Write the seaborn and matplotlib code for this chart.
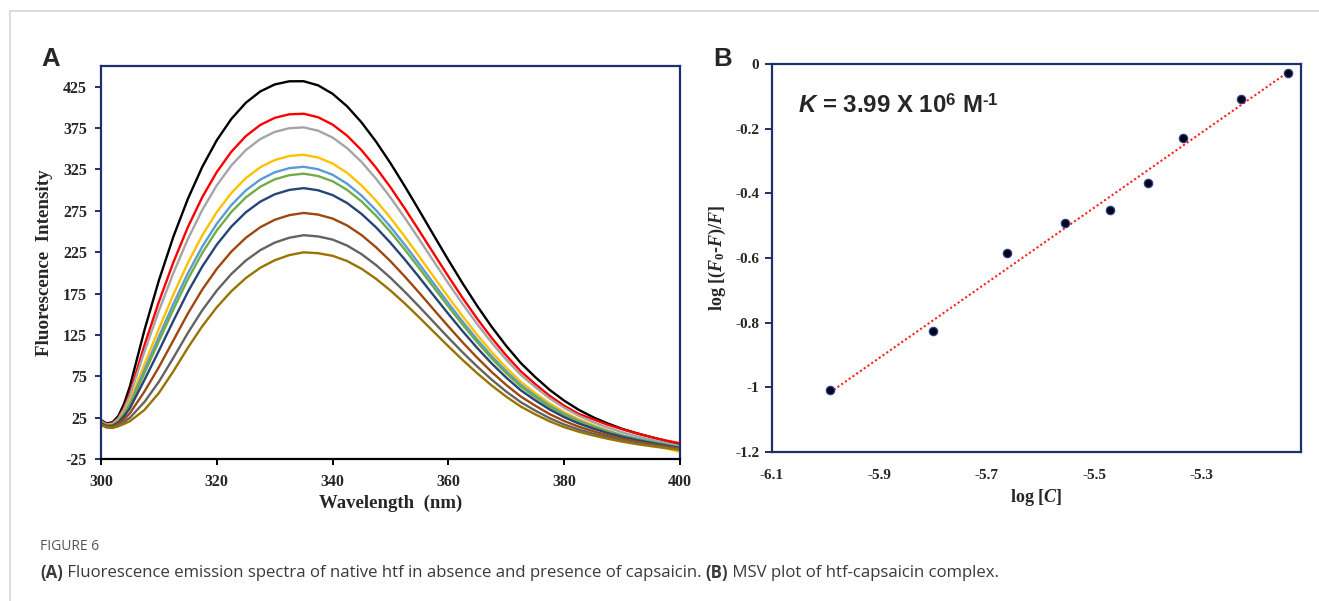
import matplotlib
matplotlib.use("Agg")
import matplotlib.pyplot as plt
import seaborn as sns
import pandas as pd
from matplotlib.lines import Line2D

# ---------------- data ----------------
wavelength = [300, 301, 302, 303, 304, 305, 307.5, 310, 312.5, 315, 317.5, 320, 322.5, 325,
              327.5, 330, 332.5, 335, 337.5, 340, 342.5, 345, 347.5, 350, 352.5, 355, 357.5,
              360, 362.5, 365, 367.5, 370, 372.5, 375, 377.5, 380, 382.5, 385, 387.5, 390,
              392.5, 395, 397.5, 400]

curve_black = [22, 18, 19.5, 27, 42, 62.9, 130.7, 190.9, 243.7, 289.4, 328.2, 360.3, 385.9, 405.5,
               419.2, 427.7, 431.5, 431.6, 426.6, 416.4, 401.3, 381.8, 358.6, 332.5, 304.3, 274.9, 245,
               215.4, 186.8, 159.7, 134.5, 111.6, 91, 74, 58.5, 45.5, 34.5, 25.5, 18, 11.5,
               6.2, 1.5, -3.2, -7.5]
curve_red = [20.9, 17.1, 18.2, 24.6, 37.3, 54.9, 112.4, 165.0, 212.8, 255.2, 291.6, 321.9, 346.3, 365.2,
             378.7, 387.3, 391.6, 392.3, 388.1, 379.2, 365.8, 348.2, 327.1, 303.3, 277.4, 250.4, 222.9,
             195.6, 169.2, 144.3, 121.1, 100.0, 81.0, 65.5, 51.3, 39.4, 29.5, 23, 16.5, 11,
             6, 1.5, -2.5, -6]
curve_gray = [20.4, 16.7, 17.6, 23.6, 35.4, 51.5, 104.7, 154.2, 199.8, 240.8, 276.2, 305.8, 329.7, 348.3,
              361.7, 370.3, 374.8, 375.8, 371.8, 363.5, 350.8, 334.0, 313.8, 291.0, 266.1, 240.1, 213.5,
              187.3, 161.9, 137.8, 115.4, 95.1, 76.8, 61.9, 48.2, 36.9, 27.3, 19.6, 13.0, 7.3,
              2.6, -1.5, -5.5, -9.3]
curve_yellow = [19.4, 15.9, 16.5, 21.6, 31.5, 44.8, 89.3, 132.4, 173.7, 212.0, 245.4, 273.5, 296.4, 314.4,
                327.6, 336.3, 341.2, 342.7, 339.4, 332.2, 320.9, 305.7, 287.3, 266.3, 243.5, 219.4, 194.9,
                170.6, 147.1, 124.8, 104.1, 85.2, 68.4, 54.7, 42.2, 31.7, 23.1, 16.0, 9.5, 3.5,
                -2, -7, -11.8, -16.5]
curve_lightblue = [19, 15.5, 16, 20.8, 29.8, 41.8, 82.5, 122.9, 162.4, 199.4, 231.9, 259.4, 281.8, 299.6,
                   312.7, 321.5, 326.5, 328.2, 325.2, 318.5, 307.8, 293.4, 275.7, 255.6, 233.6, 210.4, 186.8,
                   163.3, 140.6, 119.1, 99.1, 81.0, 64.7, 51.5, 39.5, 29.5, 21.3, 14.5, 8.8, 3.8,
                   -0.4, -4.0, -7.5, -10.8]
curve_green = [18.8, 15.3, 15.7, 20.3, 28.8, 40.1, 78.6, 117.4, 155.8, 192.2, 224.2, 251.3, 273.5, 291.1,
               304.1, 313.0, 318.0, 319.9, 317.0, 310.7, 300.3, 286.3, 269.1, 249.4, 227.9, 205.2, 182.1,
               159.1, 136.9, 115.9, 96.3, 78.5, 62.6, 49.7, 38.0, 28.2, 20.2, 13.6, 8.0, 3.1,
               -0.9, -4.4, -7.8, -11.0]
curve_navy = [18.3, 14.9, 15.1, 19.2, 26.7, 36.5, 70.5, 105.8, 142.0, 176.9, 207.8, 234.1, 255.8, 273.1,
              286.0, 294.9, 300.2, 302.4, 299.8, 294.0, 284.4, 271.2, 255.0, 236.3, 215.9, 194.3, 172.2,
              150.3, 129.1, 109.0, 90.3, 73.3, 58.1, 45.9, 34.8, 25.5, 17.9, 11.8, 6.4, 1.8,
              -2.1, -5.4, -8.6, -11.6]
curve_brown = [17.4, 14.2, 14.1, 17.4, 23.1, 30.4, 56.5, 86.1, 118.4, 150.8, 179.9, 204.8, 225.6, 242.3,
               255.1, 264.1, 269.7, 272.4, 270.4, 265.6, 257.3, 245.6, 230.9, 214.0, 195.3, 175.6, 155.3,
               135.2, 115.7, 97.2, 80.0, 64.4, 50.5, 39.4, 29.2, 20.9, 14.1, 8.6, 3.8, -0.4,
               -4.0, -7.0, -9.8, -12.5]
curve_darkgray = [16.6, 13.5, 13.2, 15.8, 20.0, 24.9, 43.9, 68.4, 97.3, 127.4, 154.9, 178.6, 198.5, 214.8,
                  227.4, 236.5, 242.4, 245.5, 244.0, 240.2, 233.0, 222.6, 209.4, 194.0, 176.9, 158.8, 140.2,
                  121.6, 103.6, 86.6, 70.8, 56.4, 43.7, 33.5, 24.3, 16.7, 10.7, 5.7, 1.4, -2.5,
                  -5.7, -8.4, -10.9, -13.4]
curve_olive = [16, 13, 12.5, 14.5, 17.5, 20.7, 34.3, 54.8, 81.0, 109.4, 135.6, 158.4, 177.7, 193.6,
               206.1, 215.2, 221.4, 224.8, 223.7, 220.6, 214.3, 204.9, 192.8, 178.6, 162.8, 145.9, 128.5,
               111.2, 94.4, 78.5, 63.7, 50.3, 38.4, 29, 20.5, 13.5, 8, 3.5, -0.5, -4,
               -7, -9.5, -11.8, -14]

series_names = ["c0", "c1", "c2", "c3", "c4", "c5", "c6", "c7", "c8", "c9"]
series_values = [curve_black, curve_red, curve_gray, curve_yellow, curve_lightblue,
                 curve_green, curve_navy, curve_brown, curve_darkgray, curve_olive]
series_colors = ["#000000", "#FF0000", "#A5A5A5", "#FFC000", "#5B9BD5",
                 "#70AD47", "#264478", "#9E480E", "#636363", "#997300"]

a_yticks = [-25, 25, 75, 125, 175, 225, 275, 325, 375, 425]
a_xticks = [300, 320, 340, 360, 380, 400]

log_c = [-5.992, -5.800, -5.663, -5.555, -5.471, -5.399, -5.335, -5.227, -5.140]
log_ratio = [-1.008, -0.826, -0.584, -0.491, -0.452, -0.367, -0.228, -0.109, -0.029]

b_yticks = [0, -0.2, -0.4, -0.6, -0.8, -1.0, -1.2]
b_ytick_labels = ["0", "-0.2", "-0.4", "-0.6", "-0.8", "-1", "-1.2"]
b_xticks = [-6.1, -5.9, -5.7, -5.5, -5.3]
b_xtick_labels = ["-6.1", "-5.9", "-5.7", "-5.5", "-5.3"]

# ---------------- style ----------------
sns.set_theme(style="white")
plt.rcParams["font.family"] = ["Liberation Serif", "DejaVu Serif"]
plt.rcParams["axes.unicode_minus"] = False
plt.rcParams["mathtext.fontset"] = "custom"
plt.rcParams["mathtext.rm"] = "Liberation Serif:bold"
plt.rcParams["mathtext.it"] = "Liberation Serif:italic:bold"
plt.rcParams["mathtext.bf"] = "Liberation Sans:bold"
plt.rcParams["mathtext.sf"] = "Liberation Sans:italic:bold"

W, H = 1319, 601
NAVY = "#1E2F6E"
fig = plt.figure(figsize=(W / 100, H / 100), dpi=100)
fig.patch.set_facecolor("white")


def px_axes(left, top, right, bottom):
    return fig.add_axes([left / W, 1 - bottom / H, (right - left) / W, (bottom - top) / H])


# page frame lines
fig.add_artist(Line2D([9.5 / W, 9.5 / W], [0, 1 - 11 / H], color="#d6d6d6", lw=1.2))
fig.add_artist(Line2D([9.5 / W, 1], [1 - 11 / H, 1 - 11 / H], color="#d6d6d6", lw=1.2))

# ---------------- panel A ----------------
axA = px_axes(101, 66, 680, 459)
long_rows = []
for name, vals in zip(series_names, series_values):
    for w, v in zip(wavelength, vals):
        long_rows.append({"wl": w, "val": v, "series": name})
dfA = pd.DataFrame(long_rows)
sns.lineplot(data=dfA, x="wl", y="val", hue="series", hue_order=series_names,
             palette=series_colors, linewidth=1.7, legend=False, ax=axA, sort=True)
axA.set_xlim(300, 400)
axA.set_ylim(-25, 450)
axA.set_xticks(a_xticks)
axA.set_yticks(a_yticks)
axA.set_xticklabels([str(t) for t in a_xticks])
axA.set_yticklabels([str(t) for t in a_yticks])
for side in ["left", "top", "right"]:
    axA.spines[side].set_color(NAVY)
    axA.spines[side].set_linewidth(1.6)
axA.spines["bottom"].set_color("black")
axA.spines["bottom"].set_linewidth(1.6)
axA.tick_params(axis="y", direction="out", length=4, width=1.4, color=NAVY, pad=6,
                labelsize=11.5, left=True)
axA.tick_params(axis="x", direction="out", length=4, width=1.4, color="black", pad=7,
                labelsize=11.5, bottom=True)
for lab in axA.get_xticklabels() + axA.get_yticklabels():
    lab.set_fontweight("bold")
axA.set_xlabel("Wavelength  (nm)", fontsize=13.5, fontweight="bold", va="center")
axA.xaxis.set_label_coords(0.5, -0.112)
axA.set_ylabel("Fluorescence  Intensity", fontsize=13.7, fontweight="bold", va="center")
axA.yaxis.set_label_coords(-0.097, 0.5)
axA.grid(False)

# ---------------- panel B ----------------
axB = px_axes(772, 64, 1301, 452)
sns.regplot(x=log_c, y=log_ratio, ax=axB, ci=None, scatter=False, truncate=True,
            line_kws=dict(color="#FF2020", linestyle=(0, (1, 1.2)), linewidth=1.5))
sns.scatterplot(x=log_c, y=log_ratio, ax=axB, s=36, color="#050510",
                edgecolor="#2A3F9A", linewidth=0.9, zorder=5)
axB.set_xlim(-6.1, -5.115)
axB.set_ylim(-1.2, 0)
axB.set_xticks(b_xticks)
axB.set_xticklabels(b_xtick_labels)
axB.set_yticks(b_yticks)
axB.set_yticklabels(b_ytick_labels)
for side in ["left", "top", "right", "bottom"]:
    axB.spines[side].set_color(NAVY)
    axB.spines[side].set_linewidth(1.6)
axB.tick_params(axis="y", direction="out", length=5, width=1.4, color=NAVY, pad=4,
                labelsize=11, left=True)
axB.tick_params(axis="x", length=0, pad=12, labelsize=11, bottom=True)
for lab in axB.get_xticklabels() + axB.get_yticklabels():
    lab.set_fontweight("bold")
axB.set_xlabel(r"log [$C$]", fontsize=13, fontweight="bold", va="center")
axB.xaxis.set_label_coords(0.5, -0.116)
axB.set_ylabel(r"log [($F_{\mathit{0}}$-$F$)/$F$]", fontsize=13, fontweight="bold", va="center")
axB.yaxis.set_label_coords(-0.104, 0.5)
axB.text(0.05, 0.893, "$\\mathsf{K}$ = 3.99 X 10$^{\\mathbf{6}}$ M$^{\\mathbf{\u20101}}$",
         transform=axB.transAxes, fontsize=17.3, fontweight="bold",
         family=["Liberation Sans", "DejaVu Sans"], va="center", ha="left")
axB.grid(False)

# panel letters
fig.text(41 / W, 1 - 66 / H, "A", fontsize=18.5, fontweight="bold",
         family=["Liberation Sans", "DejaVu Sans"], va="baseline", ha="left")
fig.text(713 / W, 1 - 66 / H, "B", fontsize=18.5, fontweight="bold",
         family=["Liberation Sans", "DejaVu Sans"], va="baseline", ha="left")

# ---------------- caption ----------------
cap_font = ["Open Sans", "DejaVu Sans"]
fig.text(40 / W, 1 - 546 / H, "FIGURE 6", fontsize=10, color="#555555",
         family=cap_font, va="center", ha="left")

renderer = fig.canvas.get_renderer()
x_cursor = 40.0
parts = [("(A)", "bold"),
         (" Fluorescence emission spectra of native htf in absence and presence of capsaicin. ", "normal"),
         ("(B)", "bold"),
         (" MSV plot of htf-capsaicin complex.", "normal")]
for txt, wt in parts:
    t = fig.text(x_cursor / W, 1 - 573 / H, txt, fontsize=12.1, fontweight=wt, color="#3a3a3a",
                 family=cap_font, va="center", ha="left")
    x_cursor += t.get_window_extent(renderer=renderer).width

fig.savefig("out.png", dpi=100, facecolor="white")
